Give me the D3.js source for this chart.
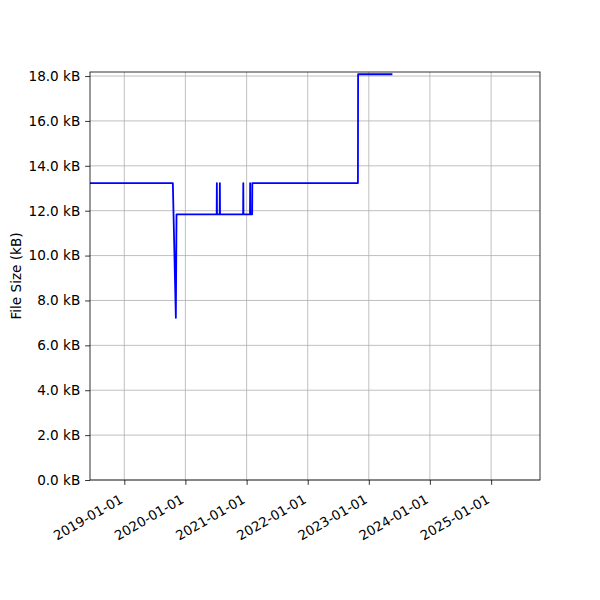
<!DOCTYPE html>
<html>
<head>
<meta charset="utf-8">
<script src="https://cdn.jsdelivr.net/npm/d3@7"></script>
<style>
  html, body { margin: 0; padding: 0; background: #fff; }
  svg { display: block; }
  text { font-family: "DejaVu Sans", sans-serif; fill: #000; }
</style>
</head>
<body>
<script>
// ---- data ----
const dates = [
  "2018-06-10", "2019-10-18", "2019-11-05", "2019-11-09",
  "2020-07-06", "2020-07-07", "2020-07-08",
  "2020-07-24", "2020-07-25", "2020-07-26",
  "2020-12-11", "2020-12-12", "2020-12-13",
  "2021-01-21", "2021-01-22", "2021-01-23",
  "2021-02-03", "2021-02-04",
  "2022-10-28", "2022-10-29", "2023-05-22"
];
const sizesKB = [
  13.23, 13.23, 7.23, 11.84,
  11.84, 13.23, 11.84,
  11.84, 13.23, 11.84,
  11.84, 13.23, 11.84,
  11.84, 13.23, 11.84,
  11.84, 13.23,
  13.23, 18.08, 18.08
];
const xDomain = ["2018-06-10", "2025-10-20"];
const yDomain = [0, 18.18];
const xTickDates = ["2019-01-01", "2020-01-01", "2021-01-01", "2022-01-01", "2023-01-01", "2024-01-01", "2025-01-01"];
const yTickValues = [0, 2, 4, 6, 8, 10, 12, 14, 16, 18];
const yLabel = "File Size (kB)";

// ---- layout ----
const W = 600, H = 600;
const m = { left: 90, right: 60, top: 72, bottom: 120 };
const fontPx = 13.6;
const parse = d3.utcParse("%Y-%m-%d");

const svg = d3.select("body").append("svg").attr("width", W).attr("height", H);

const x = d3.scaleUtc().domain(xDomain.map(parse)).range([m.left, W - m.right]);
const y = d3.scaleLinear().domain(yDomain).range([H - m.bottom, m.top]);

const data = dates.map((d, i) => ({ date: parse(d), v: sizesKB[i] }));

// grid
const grid = svg.append("g");
grid.selectAll("line.gx").data(xTickDates.map(parse)).join("line")
  .attr("x1", d => x(d)).attr("x2", d => x(d))
  .attr("y1", m.top).attr("y2", H - m.bottom)
  .attr("stroke", "#b0b0b0").attr("stroke-width", 0.8);
grid.selectAll("line.gy").data(yTickValues).join("line")
  .attr("x1", m.left).attr("x2", W - m.right)
  .attr("y1", d => y(d)).attr("y2", d => y(d))
  .attr("stroke", "#b0b0b0").attr("stroke-width", 0.8);

// line
const clipId = "plotclip";
svg.append("clipPath").attr("id", clipId).append("rect")
  .attr("x", m.left).attr("y", m.top - 2)
  .attr("width", W - m.left - m.right).attr("height", H - m.top - m.bottom + 2);

svg.append("path").datum(data)
  .attr("clip-path", `url(#${clipId})`)
  .attr("fill", "none").attr("stroke", "#0000ff").attr("stroke-width", 1.8)
  .attr("stroke-linejoin", "round")
  .attr("d", d3.line().x(d => x(d.date)).y(d => y(d.v)));

// axes
const xAxis = svg.append("g").attr("transform", `translate(0,${H - m.bottom})`)
  .call(d3.axisBottom(x).tickValues(xTickDates.map(parse)).tickFormat(d3.utcFormat("%Y-%m-%d"))
    .tickSize(4.86).tickPadding(4.86));
xAxis.select(".domain").remove();
xAxis.selectAll(".tick line").attr("stroke", "#000").attr("stroke-width", 0.8);
xAxis.selectAll(".tick text")
  .attr("font-size", 13.3).attr("font-family", "DejaVu Sans")
  .attr("text-anchor", "end")
  .attr("dy", null).attr("y", null)
  .attr("transform", "translate(-1,22) rotate(-30)");

const yAxis = svg.append("g").attr("transform", `translate(${m.left},0)`)
  .call(d3.axisLeft(y).tickValues(yTickValues).tickFormat(d => d.toFixed(1) + " kB")
    .tickSize(4.86).tickPadding(4.86));
yAxis.select(".domain").remove();
yAxis.selectAll(".tick line").attr("stroke", "#000").attr("stroke-width", 0.8);
yAxis.selectAll(".tick text").attr("font-size", fontPx).attr("font-family", "DejaVu Sans");

// frame (spines)
svg.append("rect")
  .attr("x", m.left).attr("y", m.top)
  .attr("width", W - m.left - m.right).attr("height", H - m.top - m.bottom)
  .attr("fill", "none").attr("stroke", "#000").attr("stroke-width", 0.8);

// y label
svg.append("text")
  .attr("transform", `translate(21,${(m.top + H - m.bottom) / 2}) rotate(-90)`)
  .attr("text-anchor", "middle")
  .attr("font-size", fontPx)
  .text(yLabel);
</script>
</body>
</html>
